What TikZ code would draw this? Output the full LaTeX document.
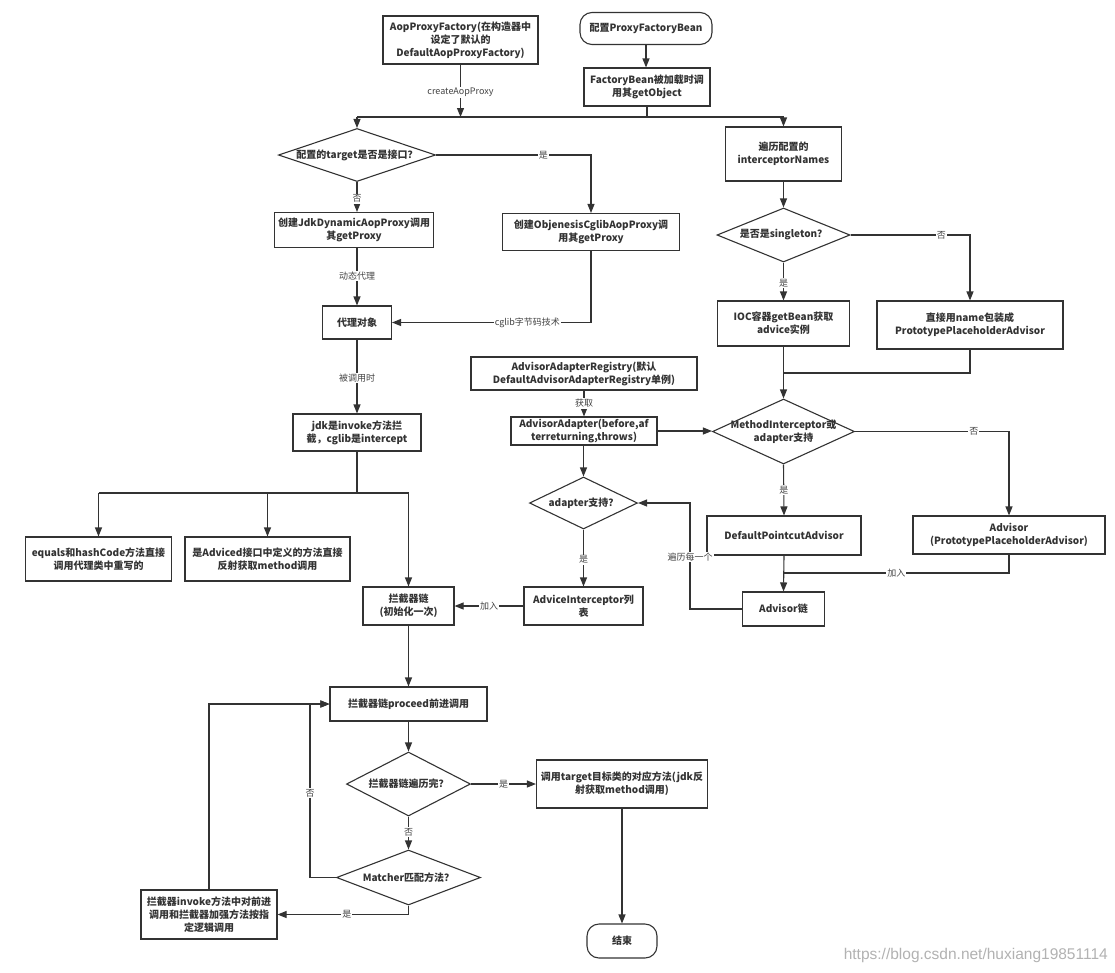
\documentclass[tikz,border=0pt]{standalone}
\usepackage{fontspec}
\setmainfont{Noto Sans CJK SC}
\newfontfamily\wmfont{Liberation Sans}
\usetikzlibrary{arrows.meta,shapes.geometric}
\definecolor{lc}{HTML}{333333}
\definecolor{lbc}{HTML}{444444}
\tikzset{
  box/.style={draw=lc, line width=1.1pt, fill=white, align=center, inner sep=2pt, font=\fontsize{10}{13}\selectfont\bfseries, text=lc},
  pill/.style={box, rounded corners=12pt},
  dia/.style={diamond, draw=lc, line width=1.1pt, fill=white, inner sep=0pt},
  dtxt/.style={align=center, font=\fontsize{10}{13}\selectfont\bfseries, text=lc, inner sep=0pt},
  wire/.style={draw=lc, line width=1.1pt},
  arr/.style={wire, -{Triangle[length=9pt,width=7pt]}},
  lbl/.style={fill=white, inner sep=1pt, font=\fontsize{9}{10}\selectfont, text=lbc},
}
\begin{document}
\begin{tikzpicture}[x=1pt,y=-1pt]
\fill[white] (0,0) rectangle (1115,972);
\useasboundingbox (0,0) rectangle (1115,972);

% nodes
\node[box, minimum width=155pt, minimum height=48pt] (n1) at (460.5,40) {AopProxyFactory(在构造器中\\设定了默认的\\DefaultAopProxyFactory)};
\node[pill, minimum width=132pt, minimum height=32pt] (n2) at (646,28.5) {配置ProxyFactoryBean};
\node[box, minimum width=126pt, minimum height=38pt] (n3) at (647,87) {FactoryBean被加载时调\\用其getObject};
\node[dia, minimum width=157pt, minimum height=53pt] (d1) at (357,155) {};
\node[dtxt] (d1t) at (d1) {配置的target是否是接口？};
\node[box, minimum width=159pt, minimum height=35pt] (n5) at (354,230) {创建JdkDynamicAopProxy调用\\其getProxy};
\node[box, minimum width=177pt, minimum height=37pt] (n6) at (591,232) {创建ObjenesisCglibAopProxy调\\用其getProxy};
\node[box, minimum width=69pt, minimum height=33pt] (n7) at (357,322.5) {代理对象};
\node[box, minimum width=128pt, minimum height=37pt] (n8) at (357,432.5) {jdk是invoke方法拦\\截，cglib是intercept};
\node[box, minimum width=146pt, minimum height=44pt] (n9) at (98.5,559) {equals和hashCode方法直接\\调用代理类中重写的};
\node[box, minimum width=165pt, minimum height=44pt] (n10) at (267.5,559) {是Adviced接口中定义的方法直接\\反射获取method调用};
\node[box, minimum width=91pt, minimum height=38pt] (n11) at (408.5,606) {拦截器链\\(初始化一次)};
\node[box, minimum width=226pt, minimum height=33pt] (n12) at (584,373.5) {AdvisorAdapterRegistry(默认\\DefaultAdvisorAdapterRegistry单例)};
\node[box, minimum width=146pt, minimum height=28pt, inner sep=1pt] (n13) at (584,431) {AdvisorAdapter(before,af\\terreturning,throws)};
\node[dia, minimum width=108pt, minimum height=52pt] (d14) at (583.5,503) {};
\node[dtxt] (d14t) at (d14) {adapter支持？};
\node[box, minimum width=119pt, minimum height=38pt] (n15) at (583.5,606) {AdviceInterceptor列\\表};
\node[dia, minimum width=142pt, minimum height=65pt] (d16) at (783.5,431.5) {};
\node[dtxt] (d16t) at (d16) {MethodInterceptor或\\adapter支持};
\node[box, minimum width=154pt, minimum height=39pt] (n17) at (784,535.5) {DefaultPointcutAdvisor};
\node[box, minimum width=192pt, minimum height=38pt] (n18) at (1009,535) {Advisor\\(PrototypePlaceholderAdvisor)};
\node[box, minimum width=82pt, minimum height=34pt] (n19) at (783.5,609) {Advisor链};
\node[box, minimum width=116pt, minimum height=54pt] (n20) at (783.5,154) {遍历配置的\\interceptorNames};
\node[dia, minimum width=133pt, minimum height=54pt] (d21) at (783.5,235) {};
\node[dtxt] (d21t) at (d21) {是否是singleton？};
\node[box, minimum width=132pt, minimum height=45pt] (n22) at (783.5,323.5) {IOC容器getBean获取\\advice实例};
\node[box, minimum width=186pt, minimum height=48pt] (n23) at (970,325) {直接用name包装成\\PrototypePlaceholderAdvisor};
\node[box, minimum width=157pt, minimum height=34pt] (n24) at (408.5,704) {拦截器链proceed前进调用};
\node[dia, minimum width=124pt, minimum height=64pt] (d25) at (408.5,784) {};
\node[dtxt] (d25t) at (d25) {拦截器链遍历完？};
\node[dia, minimum width=144pt, minimum height=55pt] (d26) at (408.5,877.5) {};
\node[dtxt] (d26t) at (d26) {Matcher匹配方法？};
\node[box, minimum width=136pt, minimum height=49pt] (n27) at (209,914.5) {拦截器invoke方法中对前进\\调用和拦截器加强方法按指\\定逻辑调用};
\node[box, minimum width=171pt, minimum height=48pt] (n28) at (622,784) {调用target目标类的对应方法(jdk反\\射获取method调用)};
\node[pill, minimum width=70pt, minimum height=34pt] (n29) at (622,941) {结束};
\node[font=\wmfont\fontsize{15.5}{16}\selectfont, text=black!30, anchor=east, inner sep=0pt] (wm) at (1108,955) {https://blog.csdn.net/huxiang19851114};

% junctions
\coordinate (jL) at (357,117);
\coordinate (jR) at (783.5,117);
\coordinate (sp) at (357,493);
\coordinate (s1) at (98.5,493);
\coordinate (s2) at (267.5,493);
\coordinate (s3) at (408.5,493);
\coordinate (jn) at (783.5,373);
\coordinate (jn2) at (783.5,573);
\coordinate (lp) at (690,609);
\coordinate (lx) at (310,877.5);

% connectors
\draw[wire] (jL) -- (jR);
\draw[arr] (n2.south) -- (n2.south |- n3.north);
\draw[arr] (n1.south) -- (n1.south |- jL) node[lbl,pos=0.53]{createAopProxy};
\draw[wire] (n3.south) -- (n3.south |- jL);
\draw[arr] (jL) -- (d1.north);
\draw[arr] (jR) -- (n20.north);
\draw[arr] (d1.east) -| (n6.north) node[lbl,pos=0.346]{是};
\draw[arr] (d1.south) -- (d1.south |- n5.north) node[lbl,pos=0.56]{否};
\draw[arr] (n7.north |- n5.south) -- (n7.north) node[lbl,pos=0.49]{动态代理};
\draw[arr] (n6.south) |- (n7.east) node[lbl,pos=0.66]{cglib字节码技术};
\draw[arr] (n7.south) -- (n8.north) node[lbl,pos=0.52]{被调用时};
\draw[wire] (n8.south) -- (sp);
\draw[wire] (s1) -- (s3);
\draw[arr] (s1) -- (n9.north);
\draw[arr] (s2) -- (n10.north);
\draw[arr] (s3) -- (n11.north);
\draw[arr] (n12.south) -- (n13.north) node[lbl,pos=0.5]{获取};
\draw[arr] (d14.north |- n13.south) -- (d14.north);
\draw[arr] (n13.east) -- (n13.east -| d16.west);
\draw[arr] (d14.south) -- (n15.north) node[lbl,pos=0.53]{是};
\draw[arr] (n15.west) -- (n15.west -| n11.east) node[lbl,pos=0.5]{加入};
\draw[arr] (n20.south) -- (d21.north);
\draw[arr] (d21.south) -- (n22.north) node[lbl,pos=0.54]{是};
\draw[arr] (d21.east) -| (n23.north) node[lbl,pos=0.38]{否};
\draw[arr] (n22.south) -- (d16.north);
\draw[wire] (n23.south) |- (jn);
\draw[arr] (d16.south) -- (n17.north) node[lbl,pos=0.5]{是};
\draw[arr] (d16.east) -| (n18.north) node[lbl,pos=0.386]{否};
\draw[arr] (n17.south) -- (n19.north);
\draw[wire] (n18.south) |- (jn2) node[lbl,pos=0.75]{加入};
\draw[arr] (n19.west) -- (lp) |- (d14.east) node[lbl,pos=0.245]{遍历每一个};
\draw[arr] (n11.south) -- (n24.north);
\draw[arr] (n24.south) -- (d25.north);
\draw[arr] (d25.east) -- (d25.east -| n28.west) node[lbl,pos=0.5]{是};
\draw[arr] (d25.south) -- (d26.north) node[lbl,pos=0.47]{否};
\draw[arr] (d26.west) -- (lx) |- (n24.west) node[lbl,pos=0.243]{否};
\draw[arr] (n27.north) |- (n24.west);
\draw[arr] (d26.south) |- (n27.east) node[lbl,pos=0.735]{是};
\draw[arr] (n28.south) -- (n29.north);
\end{tikzpicture}
\end{document}
